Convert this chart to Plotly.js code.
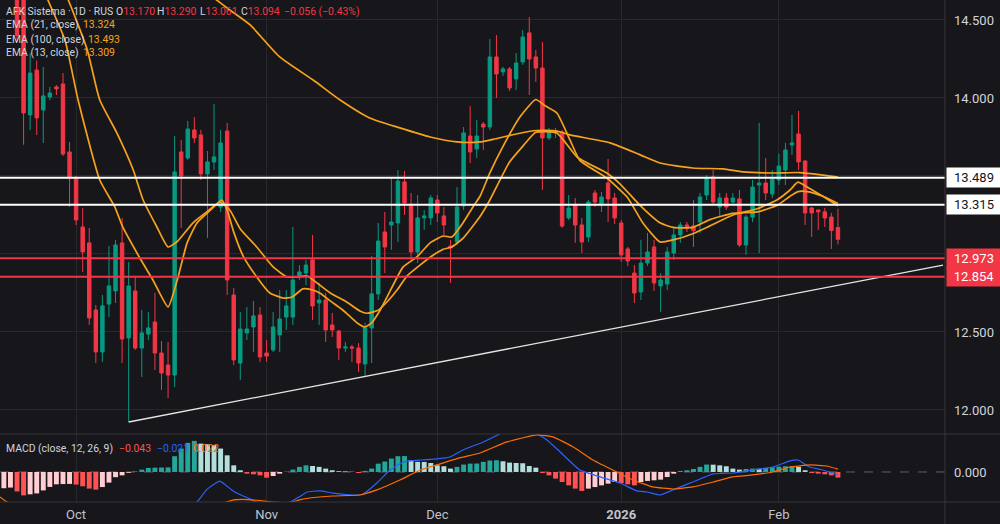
<!DOCTYPE html>
<html><head><meta charset="utf-8">
<script src="https://cdn.plot.ly/plotly-3.0.1.min.js"></script>
<style>html,body{margin:0;padding:0;background:#17171b;}#chart{width:1000px;height:524px;}</style>
</head><body><div id="chart"></div>
<script>
// ---------- DATA ----------
const opens = [14.80,14.70,13.891,14.179,13.923,14.006,14.071,14.090,13.654,13.487,
13.173,13.071,12.641,12.372,12.679,12.763,13.071,12.462,12.763,12.397,
12.487,12.564,12.365,12.288,12.224,13.654,13.615,13.795,13.763,13.513,
13.590,13.301,13.788,12.737,12.301,12.494,12.532,12.609,12.365,12.385,
12.481,12.596,12.596,12.853,12.878,12.962,12.686,12.705,12.545,12.506,
12.397,12.404,12.397,12.295,12.526,12.744,13.141,13.186,13.199,13.462,
13.308,13.013,13.231,13.231,13.346,13.244,13.051,13.077,13.308,13.756,
13.673,13.833,13.814,14.263,14.167,14.186,14.122,14.231,14.417,14.263,
14.192,13.744,13.776,13.782,13.231,13.314,13.186,13.109,13.391,13.314,
13.455,13.359,13.199,13.032,12.878,12.756,12.942,13.045,12.795,12.808,
13.006,13.122,13.186,13.180,13.205,13.378,13.494,13.301,13.359,13.333,
13.353,13.058,13.237,13.442,13.455,13.385,13.474,13.538,13.699,13.769,
13.596,13.295,13.282,13.270,13.237,13.170];
const highs = [14.92,14.76,14.288,14.240,14.199,14.071,14.083,14.160,13.718,13.500,
13.295,13.167,12.673,12.737,13.051,13.090,13.231,12.949,12.859,12.641,
12.628,12.750,12.442,12.436,13.756,13.731,13.853,13.878,13.795,13.660,
13.962,13.795,13.840,12.782,12.628,12.660,12.699,12.660,12.449,12.628,
12.769,12.769,13.173,12.929,12.962,13.122,12.814,12.750,12.622,12.513,
12.436,12.417,12.429,12.558,12.987,13.199,13.269,13.494,13.538,13.532,
13.391,13.378,13.282,13.378,13.378,13.301,13.090,13.429,13.814,13.949,
13.859,13.846,14.378,14.404,14.199,14.199,14.288,14.436,14.519,14.308,
14.359,13.808,13.808,13.795,13.378,13.359,13.231,13.346,13.410,13.397,
13.609,13.391,13.218,13.045,12.929,13.090,13.135,13.090,12.878,13.045,
13.167,13.205,13.205,13.346,13.391,13.506,13.538,13.391,13.391,13.391,
13.410,13.250,13.474,13.840,13.615,13.538,13.641,13.712,13.891,13.917,
13.600,13.301,13.282,13.295,13.263,13.290];
const lows = [14.36,13.70,13.795,13.763,13.712,13.987,14.019,13.628,13.301,13.186,
12.885,12.545,12.301,12.308,12.596,12.686,12.301,11.923,12.385,12.212,
12.449,12.256,12.128,12.077,12.147,13.167,13.603,13.712,13.474,13.103,
13.538,13.269,12.737,12.288,12.192,12.449,12.372,12.308,12.308,12.372,
12.372,12.513,12.545,12.833,12.801,12.577,12.545,12.436,12.468,12.321,
12.372,12.308,12.244,12.212,12.301,12.705,12.878,13.026,13.077,13.250,
12.962,12.942,13.154,13.186,13.205,13.122,12.814,13.058,13.282,13.583,
13.615,13.667,13.795,14.000,14.141,14.045,14.051,14.212,14.019,14.103,
13.410,13.731,13.744,13.167,13.218,13.071,13.006,13.077,13.301,13.269,
13.205,13.192,12.949,12.923,12.686,12.705,12.923,12.763,12.628,12.769,
12.962,13.071,13.141,13.045,13.135,13.346,13.314,13.244,13.282,13.314,
13.045,12.994,13.205,13.006,13.346,13.359,13.442,13.442,13.635,13.538,
13.186,13.109,13.154,13.173,13.032,13.061];
const closes = [14.40,13.904,14.160,13.872,14.013,14.032,14.058,13.641,13.487,13.218,
13.013,12.590,12.372,12.667,12.795,13.058,12.455,12.795,12.397,12.494,
12.526,12.365,12.237,12.224,13.526,13.500,13.801,13.744,13.513,13.590,
13.622,13.712,12.833,12.321,12.519,12.519,12.603,12.340,12.346,12.532,
12.583,12.667,12.833,12.885,12.929,12.667,12.705,12.513,12.513,12.397,
12.404,12.397,12.301,12.526,12.744,13.083,13.045,13.205,13.468,13.327,
13.013,13.231,13.244,13.359,13.263,13.186,13.038,13.301,13.776,13.654,
13.756,13.814,14.263,14.154,14.186,14.064,14.224,14.391,14.250,14.192,
13.744,13.782,13.782,13.179,13.295,13.186,13.077,13.333,13.333,13.365,
13.353,13.231,12.994,12.955,12.750,12.942,13.013,12.814,12.833,13.013,
13.122,13.186,13.167,13.150,13.365,13.487,13.333,13.359,13.301,13.359,
13.058,13.237,13.429,13.455,13.391,13.481,13.564,13.667,13.712,13.590,
13.263,13.263,13.270,13.231,13.150,13.094];

const ema13X = [-2.6,0,2.5,4.7,7.3,9.3,12.6,14.9,16.1,18.7,20.7,23,24.4,25.9,27.4,29.8,31.2,32,33,34.4,36.5,38.5,40.5,41.9,43.5,45,46.1,47.7,49.6,51.8,53,54,55.3,56.3,58.8,60.9,62.9,64.9,66.2,67.9,69.4,70.5,72,74,76.6,79,80.4,82.2,84.2,85.7,89.8,92.9,95.3,97.9,99.9,102.9,105.5,109,112.7,115.7,117.7,118.9,120.3,122.7,125];
const ema13Y = [15.35,15.10,14.86,14.628,14.372,13.987,13.474,13.301,13.173,12.974,12.833,12.66,12.833,13.071,13.199,13.295,13.346,13.28,13.14,12.99,12.853,12.750,12.718,12.724,12.776,12.769,12.750,12.699,12.641,12.558,12.532,12.558,12.641,12.72,12.917,12.981,13.071,13.115,13.109,13.199,13.30,13.37,13.52,13.69,13.88,13.99,13.95,13.904,13.731,13.60,13.487,13.365,13.199,13.077,13.09,13.13,13.18,13.25,13.29,13.346,13.41,13.46,13.43,13.37,13.309];
const ema21X = [-2.6,0,4,7.8,10.7,12.6,15.2,17.7,19.2,21.3,23,24.4,26.8,28.9,30.9,32.4,34,36.5,39,41.1,42.6,44.2,45.7,47.7,50.2,52.2,53.3,55,56.5,57.9,59.4,61.4,63.3,64.9,66.2,67.9,70.5,72,75,77,79,82.2,85.3,89.8,91.8,94.9,97.9,99.9,102.9,105.5,109,112.7,115.7,117.7,118.9,120.3,122.7,125];
const ema21Y = [15.55,15.33,14.96,14.628,14.308,13.987,13.776,13.538,13.346,13.173,13.045,13.08,13.2,13.27,13.333,13.282,13.16,13.045,12.917,12.853,12.853,12.859,12.814,12.750,12.692,12.635,12.620,12.64,12.70,12.77,12.86,12.93,12.99,13.03,13.045,13.10,13.24,13.346,13.59,13.69,13.78,13.776,13.62,13.519,13.45,13.31,13.20,13.17,13.17,13.22,13.26,13.27,13.31,13.37,13.40,13.40,13.37,13.324];
const ema100X = [-2.6,10,20,30.4,32.4,35.5,40,45.1,49.2,53.7,58.3,62.9,67,70.5,72.5,78.6,82.2,84.2,90.3,94.9,97.9,102.9,107.5,110.5,115.1,119.2,122.7,125];
const ema100Y = [15.72,15.3,14.95,14.628,14.564,14.468,14.263,14.115,13.987,13.872,13.808,13.750,13.718,13.718,13.735,13.79,13.788,13.763,13.712,13.635,13.583,13.551,13.545,13.526,13.519,13.522,13.506,13.493];

const levelsWhite = [13.489, 13.315];
const levelsRed = [12.973, 12.854];
const trendX = [17, 141];
const trendY = [11.923, 12.929];

const histStart = -2;
const hist = [-0.125,-0.120,-0.150,-0.180,-0.172,-0.165,-0.142,-0.115,-0.095,-0.093,
-0.092,-0.097,-0.110,-0.128,-0.136,-0.116,-0.082,-0.040,-0.026,-0.006,
0.004,0.018,0.031,0.033,0.034,0.035,0.121,0.180,0.224,0.239,
0.218,0.213,0.206,0.180,0.128,0.051,0.013,-0.013,-0.018,-0.026,
-0.044,-0.031,-0.013,0.003,0.018,0.039,0.051,0.046,0.039,0.026,
0.013,0.006,0.004,0.002,-0.008,0.008,0.026,0.064,0.080,0.103,
0.121,0.122,0.090,0.078,0.077,0.069,0.051,0.044,0.026,0.039,
0.057,0.064,0.065,0.078,0.088,0.090,0.082,0.072,0.069,0.067,
0.046,0.033,-0.008,-0.026,-0.051,-0.077,-0.103,-0.128,-0.146,-0.128,
-0.116,-0.103,-0.090,-0.077,-0.085,-0.095,-0.103,-0.077,-0.069,-0.064,
-0.059,-0.039,-0.013,0.008,0.013,0.023,0.039,0.057,0.056,0.051,
0.044,0.026,0.018,0.023,0.026,0.025,0.031,0.036,0.041,0.044,
0.046,0.039,0.013,-0.008,-0.013,-0.018,-0.026,-0.043];
const macdX = [-2.6,2,8,12,17,20,24,26,27.4,29,30.9,33,36.5,38,40,41.6,43,44.2,46.1,48.1,51.2,52.7,54.8,56.8,58.8,61.4,63.9,65.9,67.9,71,73.5,75,77,79.2,80.7,82.7,85.7,88.8,91.8,94.4,95.9,97.9,99.9,102.9,106,109,112,115.1,117.7,118.9,120.7,122.7,125];
const macdY = [-0.32,-0.50,-0.62,-0.66,-0.62,-0.55,-0.44,-0.29,-0.231,-0.13,-0.070,-0.15,-0.231,-0.27,-0.26,-0.231,-0.19,-0.154,-0.146,-0.162,-0.177,-0.169,-0.085,0.015,0.077,0.092,0.100,0.115,0.169,0.231,0.292,0.33,0.355,0.292,0.246,0.154,0.015,-0.038,-0.085,-0.146,-0.154,-0.177,-0.138,-0.077,-0.015,-0.008,0.015,0.038,0.085,0.092,0.038,0.015,-0.021];
const sigX = [-2.6,-1.5,5,10,17,24,28,31,33,35,37,39,41.6,43,44.6,48.1,52.2,54.8,58.3,61.4,63.9,67.4,70.5,74.6,79.2,81.6,84.7,87.7,90.7,93.8,96.8,99.9,102.9,106,109,112,115.1,117.7,120.7,123.3,125];
const sigY = [-0.192,-0.231,-0.37,-0.50,-0.61,-0.56,-0.40,-0.25,-0.215,-0.212,-0.22,-0.232,-0.234,-0.215,-0.200,-0.185,-0.177,-0.138,-0.062,0.015,0.054,0.108,0.146,0.231,0.285,0.270,0.192,0.092,0.015,-0.062,-0.115,-0.131,-0.115,-0.077,-0.038,-0.023,0.000,0.038,0.054,0.046,0.022];

const monthTickPos = [9, 38, 64, 92, 116];
const monthTickText = ['Oct', 'Nov', 'Dec', '<b>2026</b>', 'Feb'];
const priceTicks = [12, 12.5, 13, 13.5, 14, 14.5];
const priceTickText = ['12.000', '12.500', '', '', '14.000', '14.500'];
const macdTicks = [0];
const macdTickText = ['0.000'];

// ---------- STYLE ----------
const BG = '#17171b', GRID = '#27272c', UP = '#089981', DOWN = '#f23645';
const EMA_C = '#f7a21b', TXT = '#d1d4dc';
const W = 945, H = 502;
const px = v => v / W, py = v => 1 - v / H;

const candleX = opens.map((_, k) => k);
const histX = hist.map((_, k) => k + histStart);
const histColors = hist.map((v, k) => {
  const prev = k === 0 ? v - 0.01 : hist[k - 1];
  if (v >= 0) return v >= prev ? '#26a69a' : '#b2dfdb';
  return v < prev ? '#ff5252' : '#ffcdd2';
});

const traces = [
  {type: 'candlestick', x: candleX, open: opens, high: highs, low: lows, close: closes,
   increasing: {line: {color: UP, width: 1}, fillcolor: UP},
   decreasing: {line: {color: DOWN, width: 1}, fillcolor: DOWN},
   whiskerwidth: 0, hoverinfo: 'skip', xaxis: 'x', yaxis: 'y'},
  {type: 'scatter', mode: 'lines', x: ema100X, y: ema100Y, line: {color: EMA_C, width: 1.7, shape: 'spline', smoothing: 0.6}, xaxis: 'x', yaxis: 'y'},
  {type: 'scatter', mode: 'lines', x: ema21X, y: ema21Y, line: {color: EMA_C, width: 1.7, shape: 'spline', smoothing: 0.5}, xaxis: 'x', yaxis: 'y'},
  {type: 'scatter', mode: 'lines', x: ema13X, y: ema13Y, line: {color: EMA_C, width: 1.7, shape: 'spline', smoothing: 0.5}, xaxis: 'x', yaxis: 'y'},
  {type: 'scatter', mode: 'lines', x: trendX, y: trendY, line: {color: '#e6e6e6', width: 1.3}, xaxis: 'x', yaxis: 'y'},
  {type: 'bar', x: histX, y: hist, marker: {color: histColors, line: {width: 0}}, xaxis: 'x', yaxis: 'y2'},
  {type: 'scatter', mode: 'lines', x: macdX, y: macdY, line: {color: '#2962ff', width: 1.2, shape: 'spline', smoothing: 0.4}, xaxis: 'x', yaxis: 'y2'},
  {type: 'scatter', mode: 'lines', x: sigX, y: sigY, line: {color: '#ff6d00', width: 1.2, shape: 'spline', smoothing: 0.4}, xaxis: 'x', yaxis: 'y2'}
];

const paneSplit = 1 - 434 / H;
const shapes = [];
levelsWhite.forEach(v => shapes.push({type: 'line', xref: 'paper', x0: 0, x1: 1, yref: 'y', y0: v, y1: v, line: {color: '#ffffff', width: 2}}));
levelsRed.forEach(v => shapes.push({type: 'line', xref: 'paper', x0: 0, x1: 1, yref: 'y', y0: v, y1: v, line: {color: DOWN, width: 2}}));
shapes.push({type: 'line', xref: 'paper', x0: 0, x1: 1, yref: 'y2', y0: 0, y1: 0, layer: 'below', line: {color: '#5d606b', width: 1, dash: 'dash'}});
shapes.push({type: 'line', xref: 'paper', x0: 0, x1: 1000 / W, yref: 'paper', y0: paneSplit, y1: paneSplit, line: {color: '#34343a', width: 1}});
shapes.push({type: 'line', xref: 'paper', x0: 0, x1: 1000 / W, yref: 'paper', y0: 0, y1: 0, line: {color: '#34343a', width: 1}});
shapes.push({type: 'line', xref: 'paper', x0: 1, x1: 1, yref: 'paper', y0: -22 / H, y1: 1, line: {color: '#34343a', width: 1}});

const last = closes.length - 1;
const f3 = v => (v < 0 ? '\u2212' : '') + Math.abs(v).toFixed(3);
const chg = closes[last] - closes[last - 1];
const pct = chg / closes[last - 1] * 100;
const RED = '#f23645', ORG = '#f7a21b', GREY = '#d1d4dc';
const sp = (c, t) => `<span style="color:${c}">${t}</span>`;

const font = 'Roboto, "Noto Sans", sans-serif';
const LF = 10.4;
const ann = [];
const addText = (x, y, text, color) => ann.push({xref: 'paper', yref: 'paper', x: px(x), y: py(y), xanchor: 'left', yanchor: 'middle',
  showarrow: false, text, font: {family: font, size: LF, color: color || GREY}});
// header
addText(4, 12, 'AFK Sistema · 1D · RUS');
addText(114, 12, sp(GREY, 'O') + sp(RED, f3(opens[last])));
addText(155, 12, sp(GREY, 'H') + sp(RED, f3(highs[last])));
addText(198, 12, sp(GREY, 'L') + sp(RED, f3(lows[last])));
addText(239, 12, sp(GREY, 'C') + sp(RED, f3(closes[last])));
addText(282, 12, f3(chg) + ' (' + (pct < 0 ? '\u2212' : '') + Math.abs(pct).toFixed(2) + '%)', RED);
// EMAs
addText(4, 25, 'EMA (21, close)');
addText(81, 25, f3(ema21Y[ema21Y.length - 1]), ORG);
addText(4, 39, 'EMA (100, close)');
addText(86, 39, f3(ema100Y[ema100Y.length - 1]), ORG);
addText(4, 52, 'EMA (13, close)');
addText(81, 52, f3(ema13Y[ema13Y.length - 1]), ORG);
// MACD
addText(4, 448, 'MACD (close, 12, 26, 9)');
addText(117, 448, f3(hist[hist.length - 1]), '#ff5252');
addText(155, 448, f3(macdY[macdY.length - 1]), '#2962ff');
addText(191, 448, f3(sigY[sigY.length - 1]), '#ff6d00');

const boxLabel = (v, bg, fg) => ann.push({xref: 'paper', yref: 'y', x: 1, y: v, xanchor: 'left', yanchor: 'middle', xshift: 1,
  showarrow: false, text: v.toFixed(3), bgcolor: bg, borderpad: 2, width: 50, height: 15, align: 'center',
  font: {family: font, size: 13, color: fg}});
levelsWhite.forEach(v => boxLabel(v, '#ffffff', '#131722'));
levelsRed.forEach(v => boxLabel(v, DOWN, '#ffffff'));

const layout = {
  width: 1000, height: 524,
  margin: {l: 0, r: 55, t: 0, b: 22, pad: 0},
  paper_bgcolor: BG, plot_bgcolor: BG,
  showlegend: false, hovermode: false, dragmode: false,
  bargap: 0.25, boxgap: 0.25,
  font: {family: font, color: TXT},
  xaxis: {range: [-2.59, 141.3], anchor: 'y2', showgrid: true, gridcolor: GRID, gridwidth: 1,
          tickmode: 'array', tickvals: monthTickPos, ticktext: monthTickText, ticks: '',
          tickfont: {size: 13, color: '#c0c3cb', family: font}, ticklabelstandoff: 3,
          rangeslider: {visible: false}, zeroline: false, showline: false, fixedrange: true},
  yaxis: {domain: [paneSplit, 1], range: [11.846, 14.628], side: 'right', anchor: 'x',
          tickmode: 'array', tickvals: priceTicks, ticktext: priceTickText, ticks: '',
          showgrid: true, gridcolor: GRID, zeroline: false, showline: false,
          tickfont: {size: 13, color: TXT, family: font}, ticklabelstandoff: 8, fixedrange: true},
  yaxis2: {domain: [0, paneSplit], range: [-0.231, 0.292], side: 'right', anchor: 'x',
           tickmode: 'array', tickvals: macdTicks, ticktext: macdTickText, ticks: '',
           showgrid: false, zeroline: false, showline: false,
           tickfont: {size: 13, color: TXT, family: font}, ticklabelstandoff: 8, fixedrange: true},
  shapes, annotations: ann
};

Plotly.newPlot('chart', traces, layout, {displayModeBar: false, staticPlot: true});
</script></body></html>
